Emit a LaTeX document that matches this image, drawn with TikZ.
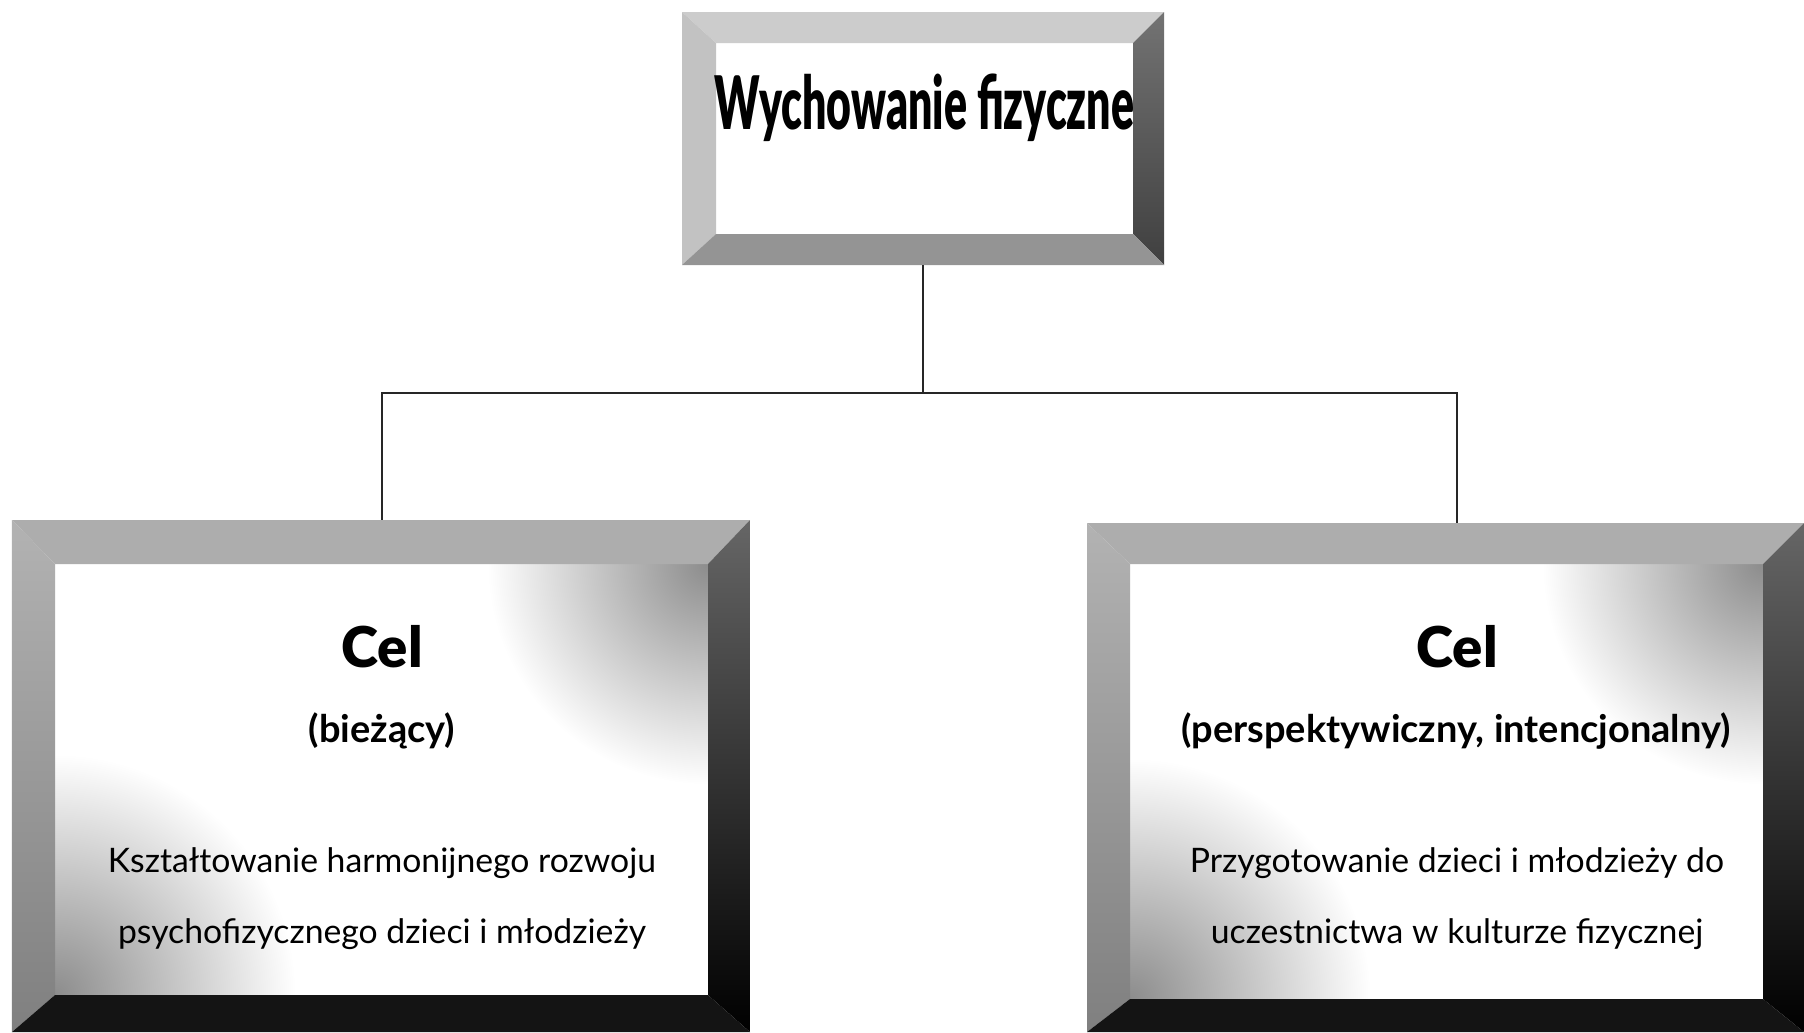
\documentclass[tikz,border=0pt]{standalone}
\usepackage{fontspec}
\setmainfont{Lato}
\newfontfamily\heavyfont{Lato Black}
\usetikzlibrary{fadings}

\tikzfading[name=soft glow, inner color=transparent!55, outer color=transparent!100]

\tikzset{
  outer/.style={inner sep=0pt, outer sep=0pt},
  face/.style={fill=white, inner sep=0pt, outer sep=0pt},
  link/.style={draw=black!85, line width=0.6pt},
  headtxt/.style={font=\heavyfont\fontsize{16}{18}\selectfont},
  titletxt/.style={font=\heavyfont\fontsize{21}{24}\selectfont, xscale=0.58},
  subtxt/.style={font=\bfseries\fontsize{10.8}{13}\selectfont},
  bodytxt/.style={font=\fontsize{9.6}{12}\selectfont}
}

\begin{document}
\begin{tikzpicture}
  \useasboundingbox (0,0) rectangle (18.04,10.32);

  % top box
  \node [outer, minimum width=4.82cm, minimum height=2.53cm] (topout) at (9.23, 8.935) {};
  \node [face, minimum width=4.17cm, minimum height=1.91cm] (topface) at (9.245, 8.935) {};
  \fill [black!20] (topout.north west) -- (topout.north east) -- (topface.north east) -- (topface.north west) -- cycle;
  \fill [black!24] (topout.north west) -- (topface.north west) -- (topface.south west) -- (topout.south west) -- cycle;
  \shade [top color=black!55, bottom color=black!75] (topout.north east) -- (topout.south east) -- (topface.south east) -- (topface.north east) -- cycle;
  \fill [black!42] (topout.south west) -- (topface.south west) -- (topface.south east) -- (topout.south east) -- cycle;
  \node [titletxt] (title) at (9.245, 9.24) {Wychowanie fizyczne};

  % left box
  \node [outer, minimum width=7.38cm, minimum height=5.12cm] (leftout) at (3.81, 2.56) {};
  \node [face, minimum width=6.53cm, minimum height=4.31cm] (leftface) at (3.815, 2.525) {};
  \begin{scope}
    \clip (leftface.south west) rectangle (leftface.north east);
    \fill [black, path fading=soft glow] (leftface.north east) circle (2.2cm);
    \fill [black, path fading=soft glow] (leftface.south west) circle (2.4cm);
  \end{scope}
  \fill [black!32] (leftout.north west) -- (leftout.north east) -- (leftface.north east) -- (leftface.north west) -- cycle;
  \shade [top color=black!30, bottom color=black!50] (leftout.north west) -- (leftface.north west) -- (leftface.south west) -- (leftout.south west) -- cycle;
  \shade [top color=black!60, bottom color=black] (leftout.north east) -- (leftout.south east) -- (leftface.south east) -- (leftface.north east) -- cycle;
  \fill [black!92] (leftout.south west) -- (leftface.south west) -- (leftface.south east) -- (leftout.south east) -- cycle;

  \node [headtxt] (lcel) at (3.82, 3.85) {Cel};
  \node [subtxt] (lkind) at (3.82, 3.01) {(bieżący)};
  \node [bodytxt] (lline1) at (3.82, 1.69) {Kształtowanie harmonijnego rozwoju};
  \node [bodytxt] (lline2) at (3.82, 0.98) {psychofizycznego dzieci i młodzieży};

  % right box
  \node [outer, minimum width=7.17cm, minimum height=5.09cm] (rightout) at (14.455, 2.545) {};
  \node [face, minimum width=6.33cm, minimum height=4.35cm] (rightface) at (14.465, 2.505) {};
  \begin{scope}
    \clip (rightface.south west) rectangle (rightface.north east);
    \fill [black, path fading=soft glow] (rightface.north east) circle (2.2cm);
    \fill [black, path fading=soft glow] (rightface.south west) circle (2.4cm);
  \end{scope}
  \fill [black!32] (rightout.north west) -- (rightout.north east) -- (rightface.north east) -- (rightface.north west) -- cycle;
  \shade [top color=black!30, bottom color=black!50] (rightout.north west) -- (rightface.north west) -- (rightface.south west) -- (rightout.south west) -- cycle;
  \shade [top color=black!60, bottom color=black] (rightout.north east) -- (rightout.south east) -- (rightface.south east) -- (rightface.north east) -- cycle;
  \fill [black!92] (rightout.south west) -- (rightface.south west) -- (rightface.south east) -- (rightout.south east) -- cycle;

  \node [headtxt] (rcel) at (14.57, 3.85) {Cel};
  \node [subtxt] (rkind) at (14.56, 3.01) {(perspektywiczny, intencjonalny)};
  \node [bodytxt] (rline1) at (14.57, 1.69) {Przygotowanie dzieci i młodzieży do};
  \node [bodytxt] (rline2) at (14.57, 0.98) {uczestnictwa w kulturze fizycznej};

  % connectors
  \coordinate (fork) at (9.23, 6.39);
  \draw [link] (topout.south) -- (fork);
  \draw [link] (fork) -| (lcel |- leftout.north);
  \draw [link] (fork) -| (rcel |- rightout.north);
\end{tikzpicture}
\end{document}
